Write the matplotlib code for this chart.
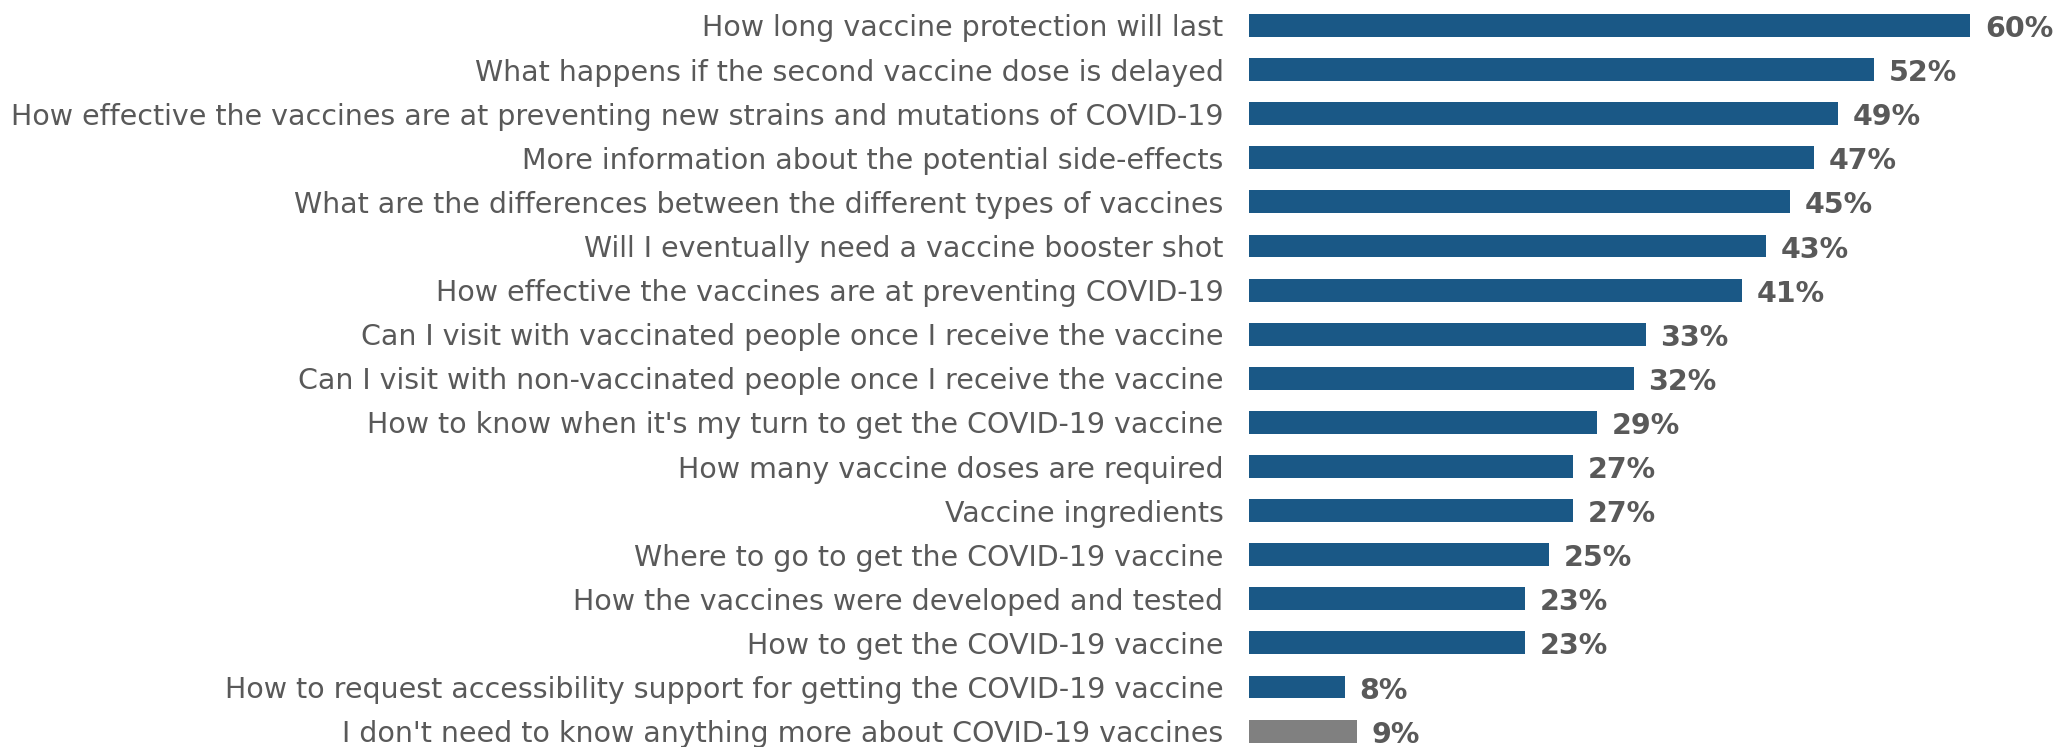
import matplotlib.pyplot as plt

# survey answers, top to bottom
topics = [
    "How long vaccine protection will last",
    "What happens if the second vaccine dose is delayed",
    "How effective the vaccines are at preventing new strains and mutations of COVID-19",
    "More information about the potential side-effects",
    "What are the differences between the different types of vaccines",
    "Will I eventually need a vaccine booster shot",
    "How effective the vaccines are at preventing COVID-19",
    "Can I visit with vaccinated people once I receive the vaccine",
    "Can I visit with non-vaccinated people once I receive the vaccine",
    "How to know when it's my turn to get the COVID-19 vaccine",
    "How many vaccine doses are required",
    "Vaccine ingredients",
    "Where to go to get the COVID-19 vaccine",
    "How the vaccines were developed and tested",
    "How to get the COVID-19 vaccine",
    "How to request accessibility support for getting the COVID-19 vaccine",
    "I don't need to know anything more about COVID-19 vaccines",
]
percents = [60, 52, 49, 47, 45, 43, 41, 33, 32, 29, 27, 27, 25, 23, 23, 8, 9]

BLUE = '#1a5886'
GRAY = '#808080'
TEXT = '#595959'

colors = [BLUE] * (len(percents) - 1) + [GRAY]

fig = plt.figure(figsize=(20.57, 7.47), dpi=100)
ax = fig.add_axes([0.607, 0.0, 0.393, 1.0])

y = list(range(len(topics)))
ax.barh(y, percents, height=0.52, color=colors)

for yi, v in zip(y, percents):
    ax.text(v + 1.2, yi + 0.08, f'{v}%', va='center', ha='left',
            fontsize=20.5, fontweight='bold', color=TEXT, family='DejaVu Sans')

ax.set_yticks(y)
ax.set_yticklabels(topics, fontsize=20.5, color=TEXT, family='DejaVu Sans')
ax.tick_params(axis='y', length=0, pad=18)
ax.set_xticks([])
ax.set_xlim(0, 67.2)
ax.set_ylim(16.36, -0.578)
for s in ax.spines.values():
    s.set_visible(False)

fig.savefig('out.png', dpi=100)
